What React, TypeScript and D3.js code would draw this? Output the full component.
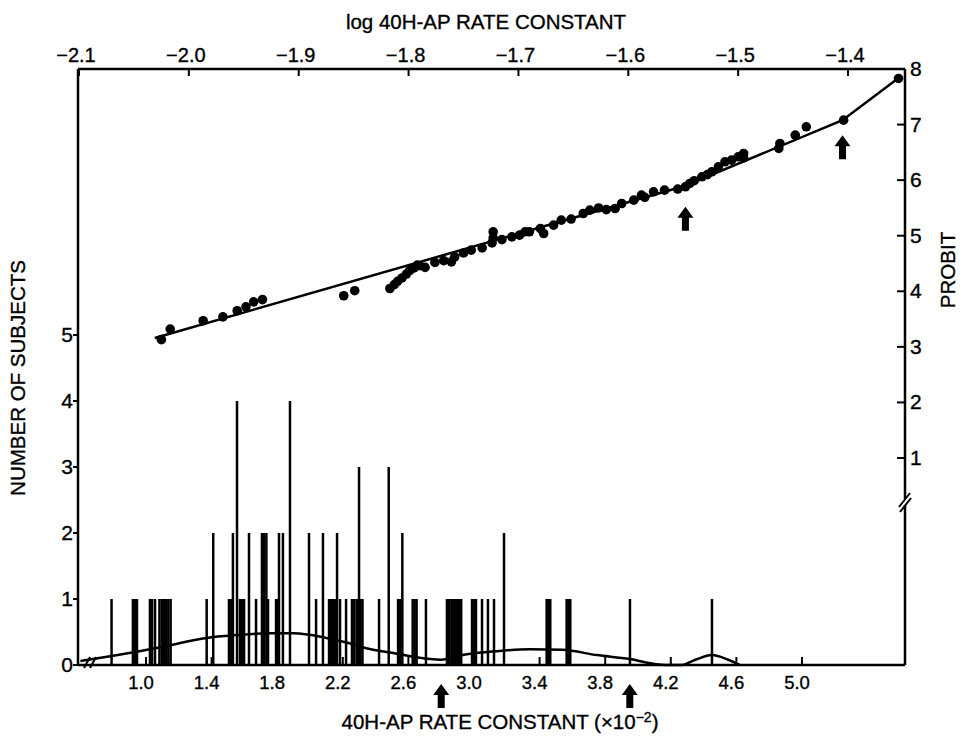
import * as d3 from "d3";

// top axis: log rate constant, right axis: probit
const logTicks = [-2.1, -2.0, -1.9, -1.8, -1.7, -1.6, -1.5, -1.4];
const probitTicks = [1, 2, 3, 4, 5, 6, 7, 8];
// left axis: number of subjects, bottom axis: rate constant (x10^-2)
const countTicks = [0, 1, 2, 3, 4, 5];
const rateTicks = [1.0, 1.4, 1.8, 2.2, 2.6, 3.0, 3.4, 3.8, 4.2, 4.6, 5.0];

// probit plot points
const probitLog = [
  -2.025, -2.017, -1.987, -1.969, -1.956, -1.948, -1.941, -1.933,
  -1.859, -1.849,
  -1.817, -1.813, -1.81, -1.806, -1.802, -1.799, -1.795, -1.792,
  -1.79, -1.785, -1.776, -1.768, -1.761, -1.758, -1.75, -1.743, -1.733, -1.724, -1.723, -1.723,
  -1.715, -1.706, -1.699, -1.694, -1.69, -1.68, -1.677, -1.668, -1.661, -1.652, -1.641, -1.635,
  -1.627, -1.62, -1.612, -1.606, -1.595, -1.588, -1.585, -1.577, -1.567, -1.555,
  -1.548, -1.544, -1.54, -1.533, -1.528, -1.524, -1.518, -1.512, -1.506, -1.5, -1.495, -1.495,
  -1.463, -1.462, -1.448, -1.438, -1.404, -1.354,
];
const probitValue = [
  3.13, 3.32, 3.47, 3.54, 3.65, 3.72, 3.81, 3.85,
  3.92, 4.01,
  4.05, 4.12, 4.18, 4.24, 4.31, 4.37, 4.42, 4.47,
  4.46, 4.43, 4.52, 4.55, 4.53, 4.62, 4.69, 4.74, 4.78, 4.87, 5.07, 4.96,
  4.93, 4.98, 5.01, 5.07, 5.07, 5.13, 5.04, 5.19, 5.28, 5.3, 5.4, 5.46,
  5.5, 5.47, 5.49, 5.58, 5.64, 5.73, 5.69, 5.79, 5.82, 5.84,
  5.88, 5.94, 5.99, 6.06, 6.1, 6.15, 6.24, 6.33, 6.36, 6.42, 6.48, 6.4,
  6.57, 6.66, 6.81, 6.96, 7.08, 7.83,
];

// fitted probit segments
const fitLog = [-2.031, -1.548, -1.405, -1.354];
const fitProbit = [3.16, 5.9, 7.08, 7.84];

// frequency bars
const barRate = [
  0.79, 0.92, 0.933, 0.945, 1.024, 1.037, 1.055, 1.082, 1.096, 1.11, 1.121, 1.136, 1.15,
  1.37, 1.41, 1.506, 1.518, 1.53, 1.555, 1.573, 1.585, 1.598, 1.628, 1.671,
  1.707, 1.72, 1.734, 1.744, 1.793, 1.805, 1.811, 1.835, 1.878, 1.994, 2.037, 2.079,
  2.116, 2.128, 2.14, 2.152, 2.165, 2.183, 2.22, 2.256, 2.27, 2.285, 2.299, 2.308, 2.32,
  2.421, 2.48, 2.537, 2.549, 2.563, 2.626, 2.638, 2.65, 2.707,
  2.835, 2.848, 2.862, 2.873, 2.885, 2.898, 2.91, 2.922, 2.988, 3.0, 3.012,
  3.049, 3.085, 3.122, 3.183, 3.443, 3.452, 3.465, 3.565, 3.577, 3.587, 3.951, 4.451,
];
const barCount = [
  1, 1, 1, 1, 1, 1, 1, 1, 1, 1, 1, 1, 1,
  1, 2, 1, 1, 2, 4, 1, 1, 1, 2, 1,
  2, 2, 2, 1, 1, 1, 2, 2, 4, 2, 1, 2,
  1, 1, 1, 1, 2, 1, 1, 1, 1, 1, 3, 1, 1,
  1, 3, 1, 1, 2, 1, 1, 1, 1,
  1, 1, 1, 1, 1, 1, 1, 1, 1, 1, 1,
  1, 1, 1, 2, 1, 1, 1, 1, 1, 1, 1, 1,
];

// smoothed frequency curve
const curveRate = [0.6, 0.8, 1.09, 1.37, 1.53, 1.76, 1.9, 2.1, 2.24, 2.32, 2.53, 2.73, 2.8, 2.93, 3.14, 3.34, 3.54, 3.75, 3.95, 4.1, 4.18, 4.26, 4.35, 4.45, 4.55, 4.62];
const curveCount = [0.06, 0.14, 0.27, 0.41, 0.45, 0.48, 0.48, 0.41, 0.33, 0.27, 0.17, 0.09, 0.08, 0.15, 0.21, 0.24, 0.23, 0.15, 0.09, 0.015, 0, 0, 0.08, 0.15, 0.08, 0];

// antimode arrows
const rateArrows = [2.8, 3.95];
const logArrows = [-1.548, -1.405];
const logArrowProbit = [5.52, 6.81];

const W = 967;
const H = 737;
const left = 78;
const right = 905;
const top = 69;
const bottom = 665;
const font = "'Liberation Sans', Arial, sans-serif";

const arrowPath = (x: number, y: number) =>
  `M${x},${y} L${x - 8},${y + 11} L${x - 3.5},${y + 11} L${x - 3.5},${y + 24} L${x + 3.5},${y + 24} L${x + 3.5},${y + 11} L${x + 8},${y + 11} Z`;

export default function App() {
  const xLog = d3.scaleLinear().domain([-2.1, -1.4]).range([79, 848]);
  const yProbit = d3.scaleLinear().domain([1, 8]).range([458, 69]);
  const xRate = d3.scaleLinear().domain([1, 5]).range([146, 802]);
  const yCount = d3.scaleLinear().domain([0, 5]).range([bottom, 335]);

  const fitLine = d3
    .line<number>()
    .x((d) => xLog(fitLog[d]))
    .y((d) => yProbit(fitProbit[d]));

  const curveLine = d3
    .line<number>()
    .x((d) => xRate(curveRate[d]))
    .y((d) => yCount(curveCount[d]))
    .curve(d3.curveMonotoneX);

  const breakY = 502;

  return (
    <svg
      width={W}
      height={H}
      style={{ position: "absolute", left: 0, top: 0, background: "#fff" }}
      fontFamily={font}
    >
      <rect width={W} height={H} fill="#fff" />

      {/* frame */}
      <g stroke="#000" strokeWidth={2.5} fill="none">
        <line x1={left} x2={right} y1={top} y2={top} />
        <line x1={left} x2={right} y1={bottom} y2={bottom} />
        <line x1={left} x2={left} y1={top} y2={bottom} />
        <line x1={right} x2={right} y1={top} y2={bottom} />
      </g>

      {/* axis breaks */}
      <rect x={right - 4} y={breakY - 3} width={8} height={6} fill="#fff" />
      <g stroke="#000" strokeWidth={2}>
        <line x1={right - 6} x2={right + 5} y1={breakY + 5} y2={breakY - 9} />
        <line x1={right - 5} x2={right + 6} y1={breakY + 10} y2={breakY - 4} />
        <line x1={84} x2={90} y1={bottom + 3} y2={bottom - 8} />
        <line x1={90} x2={96} y1={bottom + 3} y2={bottom - 8} />
      </g>

      {/* ticks */}
      <g stroke="#000" strokeWidth={2}>
        {logTicks.map((t) => (
          <line key={t} x1={xLog(t)} x2={xLog(t)} y1={top} y2={top + 7} />
        ))}
        {probitTicks.map((t) => (
          <line key={t} x1={right - 8} x2={right} y1={yProbit(t)} y2={yProbit(t)} />
        ))}
        {countTicks.map((t) => (
          <line key={t} x1={left - 5} x2={left} y1={yCount(t)} y2={yCount(t)} />
        ))}
        {rateTicks.map((t) => (
          <line key={t} x1={xRate(t)} x2={xRate(t)} y1={bottom} y2={bottom - 8} />
        ))}
      </g>

      {/* tick labels */}
      <g fontSize={20} fill="#000" stroke="#000" strokeWidth={0.35}>
        {logTicks.map((t) => (
          <text key={t} x={xLog(t) - 3} y={62} textAnchor="middle">
            {t.toFixed(1).replace("-", "\u2212")}
          </text>
        ))}
        {probitTicks.map((t) => (
          <text key={t} x={right + 5} y={yProbit(t) + 7} fontSize={21}>
            {t}
          </text>
        ))}
        {countTicks.map((t) => (
          <text key={t} x={left - 5} y={yCount(t) + 7} textAnchor="end" fontSize={21}>
            {t}
          </text>
        ))}
        {rateTicks.map((t) => (
          <text key={t} x={xRate(t) - 5} y={689} textAnchor="middle" fontSize={18.5}>
            {t.toFixed(1)}
          </text>
        ))}
      </g>

      {/* frequency bars */}
      <g stroke="#000" strokeWidth={2.5}>
        {barRate.map((r, i) => (
          <line key={i} x1={xRate(r)} x2={xRate(r)} y1={bottom} y2={yCount(barCount[i])} />
        ))}
      </g>

      {/* smoothed curve */}
      <path d={curveLine(d3.range(curveRate.length)) || ""} fill="none" stroke="#000" strokeWidth={2.5} />

      {/* probit fit and points */}
      <path d={fitLine(d3.range(fitLog.length)) || ""} fill="none" stroke="#000" strokeWidth={2.5} />
      <g fill="#000">
        {probitLog.map((l, i) => (
          <circle key={i} cx={xLog(l)} cy={yProbit(probitValue[i])} r={4.8} />
        ))}
      </g>

      {/* arrows */}
      <g fill="#000">
        {logArrows.map((l, i) => (
          <path key={l} d={arrowPath(xLog(l), yProbit(logArrowProbit[i]))} />
        ))}
        {rateArrows.map((r) => (
          <path key={r} d={arrowPath(xRate(r), bottom + 19)} />
        ))}
      </g>

      {/* titles */}
      <g fontSize={20.5} fill="#000" stroke="#000" strokeWidth={0.35}>
        <text x={486} y={29} textAnchor="middle">log 40H-AP RATE CONSTANT</text>
        <text x={500} y={729} textAnchor="middle">
          40H-AP RATE CONSTANT (×10
          <tspan dy={-7} fontSize={14}>−2</tspan>
          <tspan dy={7}>)</tspan>
        </text>
        <text transform="translate(25,378) rotate(-90)" textAnchor="middle">NUMBER OF SUBJECTS</text>
        <text transform="translate(955,270) rotate(-90)" textAnchor="middle">PROBIT</text>
      </g>
    </svg>
  );
}
